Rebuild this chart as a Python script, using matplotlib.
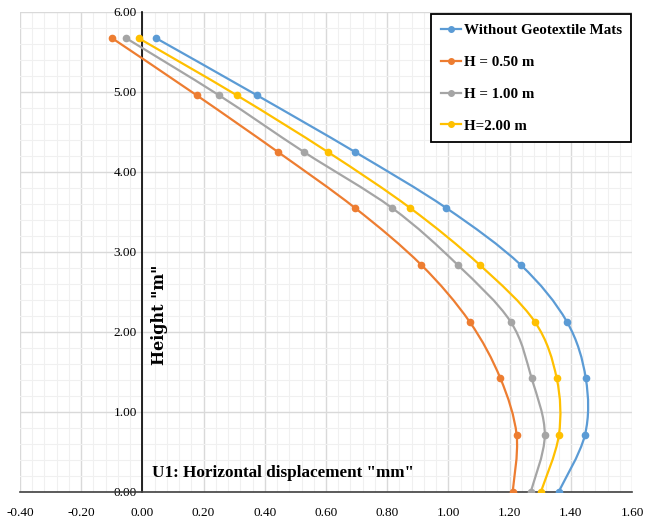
import numpy as np
import matplotlib.pyplot as plt
from matplotlib.path import Path
from matplotlib.patches import PathPatch
from matplotlib.lines import Line2D
from matplotlib.ticker import MultipleLocator


# -----------------------------
# Data
# -----------------------------
heights = [0.00, 0.71, 1.42, 2.13, 2.84, 3.55, 4.25, 4.96, 5.67]

u_without = [1.36, 1.446, 1.449, 1.387, 1.236, 0.993, 0.695, 0.374, 0.046]
u_h050 = [1.21, 1.223, 1.170, 1.069, 0.911, 0.695, 0.443, 0.177, -0.098]
u_h100 = [1.269, 1.315, 1.272, 1.203, 1.030, 0.816, 0.528, 0.250, -0.052]
u_h200 = [1.302, 1.361, 1.354, 1.282, 1.102, 0.875, 0.606, 0.308, -0.011]

series_names = ["Without Geotextile Mats", "H = 0.50 m", "H = 1.00 m", "H=2.00 m"]
series_values = [u_without, u_h050, u_h100, u_h200]
series_colors = ["#5B9BD5", "#ED7D31", "#A5A5A5", "#FFC000"]

x_ticks = [-0.40, -0.20, 0.00, 0.20, 0.40, 0.60, 0.80, 1.00, 1.20, 1.40, 1.60]
y_ticks = [0.00, 1.00, 2.00, 3.00, 4.00, 5.00, 6.00]


def smooth_path(xs, ys):
    """Excel-like smoothed line: cubic Bezier segments through the points."""
    pts = np.column_stack([xs, ys])
    n = len(pts)
    verts = [pts[0]]
    codes = [Path.MOVETO]
    for i in range(n - 1):
        p_prev = pts[i - 1] if i > 0 else pts[i]
        p_next = pts[i + 2] if i + 2 < n else pts[i + 1]
        c1 = pts[i] + (pts[i + 1] - p_prev) / 6.0
        c2 = pts[i + 1] - (p_next - pts[i]) / 6.0
        verts += [c1, c2, pts[i + 1]]
        codes += [Path.CURVE4] * 3
    return Path(verts, codes)


def main():
    serif = "Liberation Serif"

    fig = plt.figure(figsize=(6.51, 5.21), dpi=100)
    ax = fig.add_axes([20 / 651, 29 / 521, 612 / 651, 480 / 521])

    ax.set_xlim(-0.40, 1.60)
    ax.set_ylim(0.0, 6.0)

    # grid
    ax.xaxis.set_major_locator(MultipleLocator(0.2))
    ax.xaxis.set_minor_locator(MultipleLocator(0.04))
    ax.yaxis.set_major_locator(MultipleLocator(1.0))
    ax.yaxis.set_minor_locator(MultipleLocator(0.2))
    ax.grid(True, which="major", color="#D9D9D9", lw=1.0, zorder=0)
    ax.grid(True, which="minor", color="#F0F0F0", lw=0.8, zorder=0)
    ax.set_axisbelow(True)
    ax.tick_params(which="both", length=0)

    # axes cross at the origin
    ax.spines["left"].set_position(("data", 0))
    ax.spines["bottom"].set_position(("data", 0))
    ax.spines["right"].set_visible(False)
    ax.spines["top"].set_visible(False)
    ax.spines["left"].set_color("black")
    ax.spines["left"].set_linewidth(1.2)
    ax.spines["bottom"].set_color("#404040")
    ax.spines["bottom"].set_linewidth(1.2)
    ax.spines["left"].set_zorder(1)
    ax.spines["bottom"].set_zorder(1)

    ax.set_xticks(x_ticks)
    ax.set_yticks(y_ticks)
    ax.set_xticklabels([f"{v:.2f}" for v in x_ticks], family=serif, fontsize=9.5)
    ax.set_yticklabels([f"{v:.2f}" for v in y_ticks], family=serif, fontsize=9.5)
    ax.tick_params(axis="x", pad=11)
    ax.tick_params(axis="y", pad=4)

    handles = []
    for name, vals, col in zip(series_names, series_values, series_colors):
        patch = PathPatch(smooth_path(vals, heights), facecolor="none",
                          edgecolor=col, lw=1.6, zorder=3)
        ax.add_patch(patch)
        ax.plot(vals, heights, ls="none", marker="o", ms=4.5,
                color=col, zorder=4)
        handles.append(Line2D([], [], color=col, lw=1.6, marker="o", ms=4,
                              label=name))

    leg = ax.legend(handles=handles, loc="upper right",
                    bbox_to_anchor=(0.999, 0.996), borderaxespad=0.0,
                    handlelength=1.3, handletextpad=0.2, labelspacing=1.22,
                    borderpad=0.65, fancybox=False, framealpha=1.0,
                    prop={"family": serif, "weight": "bold", "size": 10.8})
    leg.get_frame().set_edgecolor("black")
    leg.get_frame().set_linewidth(1.3)
    leg.set_zorder(5)

    ax.text(0.056, 2.21, 'Height "m"', rotation=90, ha="center", va="center",
            family="DejaVu Serif", fontweight="bold", fontsize=11.5, zorder=6)
    ax.text(0.03, 0.24, 'U1: Horizontal displacement "mm"', ha="left",
            va="center", family=serif, fontweight="bold", fontsize=12.3,
            zorder=6)

    fig.savefig("out.png", dpi=100)
    plt.close(fig)


if __name__ == "__main__":
    main()
